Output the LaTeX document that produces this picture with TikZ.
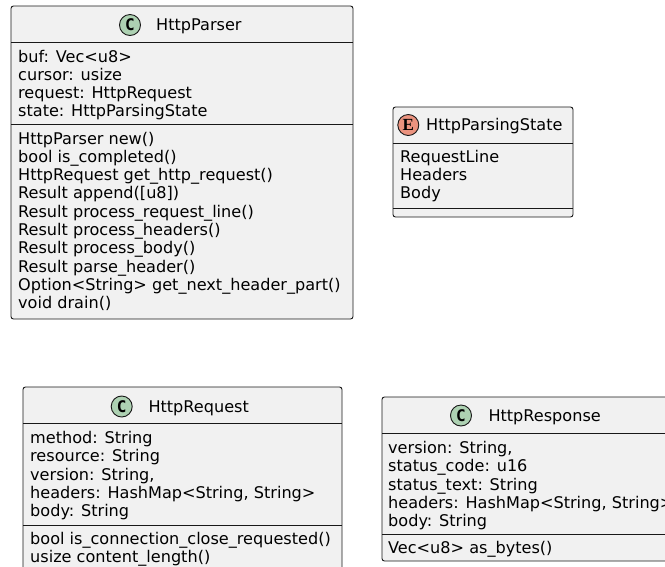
\documentclass[tikz,border=0pt]{standalone}
\usepackage{fontspec}
\setmainfont{DejaVu Sans}
\newfontfamily\spotsans{DejaVu Sans Mono}
\newfontfamily\spotserif{Liberation Serif}
\usepackage{tikz}
\definecolor{boxfill}{HTML}{F1F1F1}
\definecolor{boxline}{HTML}{181818}
\definecolor{classspot}{HTML}{ADD1B2}
\definecolor{enumspot}{HTML}{EB937F}
\newcommand{\umlfont}{\fontsize{16.1}{18.3}\selectfont}
\tikzset{
  classbox/.style={draw=boxline, fill=boxfill, line width=0.9pt, rounded corners=2.5pt},
  sepline/.style={draw=boxline, line width=0.9pt},
  member/.style={anchor=base west, inner sep=0pt, font=\umlfont},
  spot/.style={circle, draw=boxline, line width=0.9pt, minimum size=21pt, inner sep=0pt},
  cspot/.style={spot, fill=classspot, font=\spotsans\bfseries\fontsize{16}{16}\selectfont},
  espot/.style={spot, fill=enumspot, font=\spotserif\bfseries\fontsize{17}{17}\selectfont}}

\begin{document}
\begin{tikzpicture}[x=1pt,y=-1pt]
\useasboundingbox (0,0) rectangle (665,566);
\clip (0,0) rectangle (665,566);

% HttpParser
\draw[classbox] (11,6) rectangle (353,319);
\draw[sepline] (11,42) -- (353,42);
\draw[sepline] (11,124.5) -- (353,124.5);
\node[cspot] (parser-spot) at (130,25) {C};
\node[member] (parser-name) at (156,30.5) {HttpParser};
\node[member] (parser-a1) at (18,62) {buf: Vec<u8>};
\node[member] (parser-a2) at (18,80.3) {cursor: usize};
\node[member] (parser-a3) at (18,98.6) {request: HttpRequest};
\node[member] (parser-a4) at (18,116.9) {state: HttpParsingState};
\node[member] (parser-m1) at (18,144) {HttpParser new()};
\node[member] (parser-m2) at (18,162.3) {bool is\_completed()};
\node[member] (parser-m3) at (18,180.6) {HttpRequest get\_http\_request()};
\node[member] (parser-m4) at (18,198.9) {Result append([u8])};
\node[member] (parser-m5) at (18,217.2) {Result process\_request\_line()};
\node[member] (parser-m6) at (18,235.5) {Result process\_headers()};
\node[member] (parser-m7) at (18,253.8) {Result process\_body()};
\node[member] (parser-m8) at (18,272.1) {Result parse\_header()};
\node[member] (parser-m9) at (18,290.4) {Option<String> get\_next\_header\_part()};
\node[member] (parser-m10) at (18,308.7) {void drain()};

% HttpParsingState
\draw[classbox] (393,107) rectangle (573,217);
\draw[sepline] (393,143) -- (573,143);
\draw[sepline] (393,208) -- (573,208);
\node[espot] (state-spot) at (408.3,125) {E};
\node[member] (state-name) at (426,130.5) {HttpParsingState};
\node[member] (state-a1) at (400,162) {RequestLine};
\node[member] (state-a2) at (400,180.3) {Headers};
\node[member] (state-a3) at (400,198.6) {Body};

% HttpRequest
\draw[classbox] (23,387) rectangle (342,600);
\draw[sepline] (23,423) -- (342,423);
\draw[sepline] (23,525) -- (342,525);
\node[cspot] (request-spot) at (121.7,406.5) {C};
\node[member] (request-name) at (148.3,412) {HttpRequest};
\node[member] (request-a1) at (30,443.5) {method: String};
\node[member] (request-a2) at (30,461.8) {resource: String};
\node[member] (request-a3) at (30,480.1) {version: String,};
\node[member] (request-a4) at (30,498.4) {headers: HashMap<String, String>};
\node[member] (request-a5) at (30,516.7) {body: String};
\node[member] (request-m1) at (30,544.3) {bool is\_connection\_close\_requested()};
\node[member] (request-m2) at (30,562.6) {usize content\_length()};

% HttpResponse
\draw[classbox] (382,397) rectangle (670,561);
\draw[sepline] (382,433) -- (670,433);
\draw[sepline] (382,534.7) -- (670,534.7);
\node[cspot] (response-spot) at (461,415.5) {C};
\node[member] (response-name) at (488.3,421) {HttpResponse};
\node[member] (response-a1) at (388,453.5) {version: String,};
\node[member] (response-a2) at (388,471.8) {status\_code: u16};
\node[member] (response-a3) at (388,490.1) {status\_text: String};
\node[member] (response-a4) at (388,508.4) {headers: HashMap<String, String>};
\node[member] (response-a5) at (388,526.7) {body: String};
\node[member] (response-m1) at (388,553.5) {Vec<u8> as\_bytes()};
\end{tikzpicture}
\end{document}
